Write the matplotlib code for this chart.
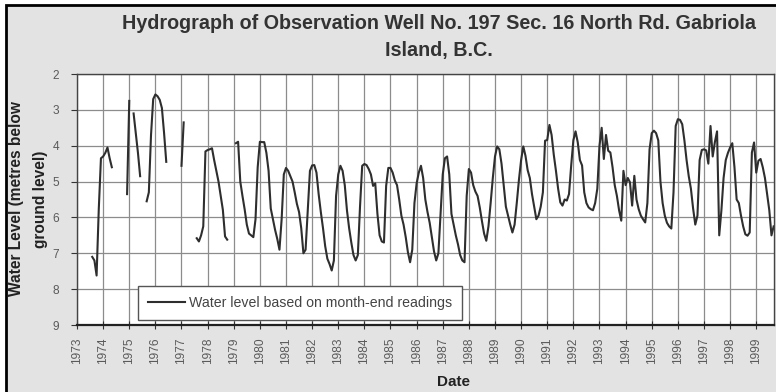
import numpy as np
import matplotlib
matplotlib.use("Agg")
import matplotlib.pyplot as plt
from matplotlib.patches import Rectangle

plt.rcParams['font.family'] = ['Liberation Sans', 'DejaVu Sans']

nan = np.nan

# month-end water levels (metres below ground), Jan..Dec of each year
lvl_1973 = [nan, nan, nan, nan, nan, nan, nan, 7.10, 7.20, 7.62, 5.77, 4.35]
lvl_1974 = [4.30, 4.20, 4.05, 4.35, 4.60, nan, nan, nan, nan, nan, nan, 5.35]
lvl_1975 = [2.75, nan, 3.10, 3.65, 4.20, 4.85, nan, nan, 5.55, 5.30, 3.70, 2.70]
lvl_1976 = [2.57, 2.62, 2.72, 2.95, 3.65, 4.45, nan, nan, nan, nan, nan, nan]
lvl_1977 = [4.56, 3.35, nan, nan, nan, nan, nan, 6.58, 6.67, 6.50, 6.25, 4.16]
lvl_1978 = [4.12, 4.10, 4.07, 4.40, 4.70, 5.00, 5.40, 5.79, 6.53, 6.62, nan, nan]
lvl_1979 = [nan, 3.93, 3.89, 5.00, 5.40, 5.77, 6.20, 6.45, 6.50, 6.55, 6.05, 4.60]
lvl_1980 = [3.89, 3.90, 3.90, 4.20, 4.70, 5.75, 6.05, 6.35, 6.60, 6.90, 6.05, 4.80]
lvl_1981 = [4.62, 4.70, 4.85, 5.00, 5.30, 5.62, 5.85, 6.30, 7.00, 6.90, 5.80, 4.70]
lvl_1982 = [4.55, 4.54, 4.75, 5.35, 5.85, 6.30, 6.80, 7.15, 7.30, 7.48, 7.20, 5.40]
lvl_1983 = [4.80, 4.56, 4.70, 5.10, 5.80, 6.30, 6.70, 7.05, 7.20, 7.05, 5.70, 4.56]
lvl_1984 = [4.51, 4.54, 4.65, 4.80, 5.12, 5.05, 5.90, 6.50, 6.67, 6.70, 5.12, 4.62]
lvl_1985 = [4.62, 4.75, 4.97, 5.10, 5.50, 5.95, 6.20, 6.55, 6.97, 7.25, 6.90, 5.60]
lvl_1986 = [5.05, 4.75, 4.56, 4.90, 5.50, 5.85, 6.15, 6.55, 6.95, 7.20, 7.00, 5.90]
lvl_1987 = [4.80, 4.35, 4.30, 4.80, 5.90, 6.20, 6.50, 6.75, 7.05, 7.20, 7.25, 5.40]
lvl_1988 = [4.65, 4.75, 5.10, 5.28, 5.40, 5.72, 6.10, 6.45, 6.65, 6.25, 5.60, 4.90]
lvl_1989 = [4.30, 4.02, 4.10, 4.50, 5.10, 5.70, 5.95, 6.20, 6.42, 6.20, 5.60, 4.95]
lvl_1990 = [4.40, 4.02, 4.28, 4.68, 4.90, 5.35, 5.70, 6.05, 5.95, 5.70, 5.30, 3.86]
lvl_1991 = [3.84, 3.42, 3.70, 4.25, 4.70, 5.20, 5.58, 5.67, 5.50, 5.53, 5.35, 4.55]
lvl_1992 = [3.85, 3.60, 3.90, 4.40, 4.55, 5.30, 5.60, 5.72, 5.77, 5.80, 5.60, 5.20]
lvl_1993 = [4.00, 3.50, 4.37, 3.70, 4.14, 4.19, 4.60, 5.10, 5.40, 5.80, 6.09, 4.70]
lvl_1994 = [5.10, 4.90, 5.02, 5.67, 4.84, 5.50, 5.77, 5.95, 6.05, 6.14, 5.60, 4.10]
lvl_1995 = [3.65, 3.58, 3.65, 3.85, 5.00, 5.60, 5.95, 6.15, 6.25, 6.31, 5.30, 3.45]
lvl_1996 = [3.26, 3.28, 3.40, 3.85, 4.40, 4.85, 5.20, 5.75, 6.20, 5.95, 4.40, 4.12]
lvl_1997 = [4.10, 4.13, 4.50, 3.45, 4.30, 3.90, 3.60, 6.50, 5.80, 4.90, 4.40, 4.20]
lvl_1998 = [4.05, 3.93, 4.60, 5.50, 5.60, 5.95, 6.25, 6.47, 6.51, 6.42, 4.19, 3.91]
lvl_1999 = [4.75, 4.42, 4.37, 4.60, 4.90, 5.35, 5.80, 6.50, 6.25, nan, nan, nan]

years = list(range(1973, 2000))
yearly = [lvl_1973, lvl_1974, lvl_1975, lvl_1976, lvl_1977, lvl_1978, lvl_1979,
          lvl_1980, lvl_1981, lvl_1982, lvl_1983, lvl_1984, lvl_1985, lvl_1986,
          lvl_1987, lvl_1988, lvl_1989, lvl_1990, lvl_1991, lvl_1992, lvl_1993,
          lvl_1994, lvl_1995, lvl_1996, lvl_1997, lvl_1998, lvl_1999]

dates = []
levels = []
for yr, vals in zip(years, yearly):
    for m, v in enumerate(vals):
        dates.append(yr + m / 12.0)
        levels.append(v)

W, H = 776, 392
fig = plt.figure(figsize=(W / 100, H / 100), dpi=100)
fig.patch.set_facecolor('white')
bg = Rectangle((6 / W, -0.1), 1.2, 1.1 - 5 / H, transform=fig.transFigure,
               facecolor='#e3e3e3', edgecolor='black', lw=2, zorder=-10)
fig.add_artist(bg)

ax = fig.add_axes([77 / W, 1 - 325 / H, (774 - 77) / W, (325 - 74) / H])
ax.set_facecolor('white')

line, = ax.plot(dates, levels, color='#2e2e2e', lw=1.5)

ax.set_xlim(1973, 1999.68)
ax.set_ylim(9, 2)
ax.set_xticks(years)
ax.set_xticklabels([str(y) for y in years], rotation=90)
ax.set_yticks(range(2, 10))
ax.grid(True, color='#8c8c8c', lw=0.9)
ax.set_axisbelow(True)
ax.tick_params(axis='both', labelsize=8.6, labelcolor='#5a5a5a', color='#333333')
ax.tick_params(axis='x', direction='inout', length=6, pad=6)
ax.tick_params(axis='y', direction='out', length=4, pad=9)
for s in ['top', 'right', 'left']:
    ax.spines[s].set_color('#444444')
    ax.spines[s].set_linewidth(1)
ax.spines['bottom'].set_color('#222222')
ax.spines['bottom'].set_linewidth(1.6)

ax.legend([line], ['Water level based on month-end readings'], loc='upper left',
          bbox_to_anchor=(138 / W, 1 - 286 / H), bbox_transform=fig.transFigure,
          fontsize=10.2, frameon=True, fancybox=False, edgecolor='#555555',
          framealpha=1, borderpad=0.7, handlelength=2.6, handletextpad=0.3,
          borderaxespad=0, labelcolor='#444444')

fig.text(439 / W, 1 - 29 / H, 'Hydrograph of Observation Well No. 197 Sec. 16 North Rd. Gabriola',
         ha='center', va='baseline', fontsize=14.2, fontweight='bold', color='#333333')
fig.text(439 / W, 1 - 56 / H, 'Island, B.C.', ha='center', va='baseline',
         fontsize=14.2, fontweight='bold', color='#333333')

fig.text(17 / W, 1 - 199 / H, 'Water Level (metres below', rotation=90, ha='center',
         va='center', fontsize=11.2, fontweight='bold', color='#222222')
fig.text(41 / W, 1 - 199 / H, 'ground level)', rotation=90, ha='center',
         va='center', fontsize=11.2, fontweight='bold', color='#222222')
fig.text(454 / W, 1 - 382 / H, 'Date', ha='center', va='center',
         fontsize=11, fontweight='bold', color='#222222')

fig.savefig('out.png', dpi=100)
